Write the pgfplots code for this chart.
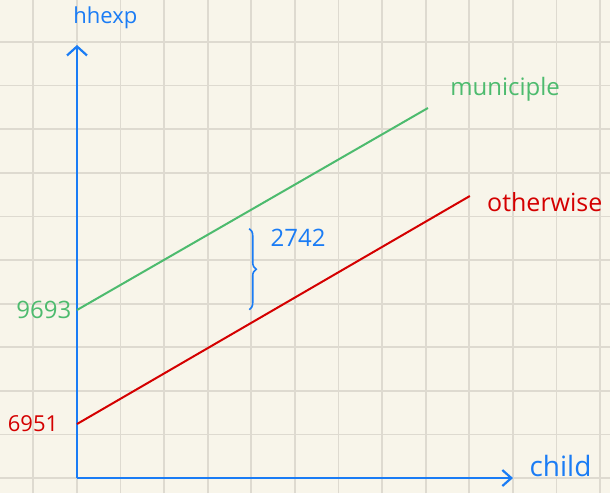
\documentclass[border=0pt]{standalone}
\usepackage{pgfplots}
\pgfplotsset{compat=1.18}
\usepackage{fontspec}
\setmainfont{Open Sans}
\usetikzlibrary{arrows.meta,decorations.pathreplacing}
\definecolor{paper}{HTML}{F8F5EA}
\definecolor{gridc}{HTML}{DEDAD0}
\definecolor{penblue}{HTML}{1A7CF5}
\definecolor{pengreen}{HTML}{4DBB6E}
\definecolor{penred}{HTML}{D40000}
\begin{document}
\begin{tikzpicture}
\begin{axis}[
  width=610pt, height=493pt, scale only axis,
  xmin=-1.766, xmax=12.225,
  ymin=5292, ymax=17148,
  xtick={-1,0,...,12},
  ytick={5652,6700.6,...,17000},
  scaled y ticks=false, scaled x ticks=false,
  xticklabels={}, yticklabels={},
  major tick length=0pt,
  grid=major,
  grid style={draw=gridc, line width=1.8pt},
  axis line style={draw=none},
  axis background/.style={fill=paper},
  clip=true,
]
% hand-drawn axes
\draw[penblue, line width=2.2pt, -{Straight Barb[length=9pt,width=20pt]}]
  (axis cs:0,5652) -- (axis cs:0,16066);
\draw[penblue, line width=2.2pt, -{Straight Barb[length=9pt,width=16pt]}]
  (axis cs:0,5652) -- (axis cs:10.0,5652);
% fitted lines
\addplot[pengreen, line width=2pt] coordinates {(0,9693) (8.05,14551)};
\addplot[penred, line width=2pt] coordinates {(0,6951) (9.01,12434)};
% brace for difference
\draw[penblue, line width=1.6pt, decorate, decoration={brace, amplitude=7pt}]
  (axis cs:3.95,11650) -- (axis cs:3.95,9700);
% labels
\node[penblue, font=\fontsize{22}{24}\selectfont] at (axis cs:0.65,16718) {hhexp};
\node[penblue, font=\fontsize{28}{30}\selectfont, anchor=west] at (axis cs:10.3,5950) {child};
\node[pengreen, font=\fontsize{24}{26}\selectfont] at (axis cs:9.82,15004) {municiple};
\node[penred, font=\fontsize{25}{27}\selectfont] at (axis cs:10.73,12289) {otherwise};
\node[pengreen, font=\fontsize{24}{26}\selectfont, anchor=east] at (axis cs:-0.05,9693) {9693};
\node[penred, font=\fontsize{22}{24}\selectfont, anchor=east] at (axis cs:-0.35,6951) {6951};
\node[penblue, font=\fontsize{24}{26}\selectfont] at (axis cs:5.07,11424) {2742};
\end{axis}
\pgfresetboundingbox
\path[use as bounding box] (current axis.south west) rectangle (current axis.north east);
\end{tikzpicture}
\end{document}
